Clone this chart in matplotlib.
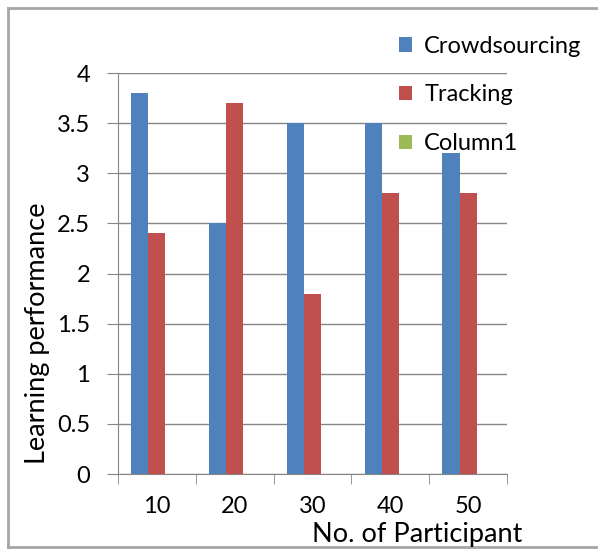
import matplotlib.pyplot as plt
from matplotlib.lines import Line2D
import numpy as np

plt.rcParams['font.family'] = ['Lato', 'DejaVu Sans']

participants = ['10', '20', '30', '40', '50']
crowdsourcing = [3.8, 2.5, 3.5, 3.5, 3.2]
tracking = [2.4, 3.7, 1.8, 2.8, 2.8]
column1 = [0, 0, 0, 0, 0]

series = [('Crowdsourcing', crowdsourcing, '#4F81BD'),
          ('Tracking', tracking, '#C0504D'),
          ('Column1', column1, '#9BBB59')]

fig = plt.figure(figsize=(5.98, 5.49), dpi=100)
ax = fig.add_axes([0.1973, 0.1366, 0.6505, 0.7304])

x = np.arange(len(participants))
w = 0.22
for i, (name, vals, col) in enumerate(series):
    ax.bar(x + (i - 1) * w, vals, w, color=col, label=name, zorder=3)

ax.set_xlim(-0.5, len(participants) - 0.5)
ax.set_ylim(0, 4)
ax.set_yticks(np.arange(0, 4.01, 0.5))
ax.set_yticklabels(['0', '0.5', '1', '1.5', '2', '2.5', '3', '3.5', '4'])
ax.set_xticks(x)
ax.set_xticklabels(participants)
ax.set_xticks(np.arange(-0.5, len(participants)), minor=True)

ax.grid(axis='y', color='#868686', linewidth=1, zorder=0)
ax.tick_params(axis='x', which='major', length=0, pad=16, labelsize=17)
ax.tick_params(axis='x', which='minor', length=7, color='#868686', direction='out')
ax.tick_params(axis='y', length=8, color='#868686', pad=12, labelsize=17)

for s in ['top', 'right']:
    ax.spines[s].set_visible(False)
for s in ['left', 'bottom']:
    ax.spines[s].set_color('#868686')

fig.text(0.063, 0.393, 'Learning performance', fontsize=19.5, rotation=90,
         ha='center', va='center')
fig.text(0.698, 0.003, 'No. of Participant', fontsize=19.5, ha='center', va='bottom')

ax.legend(loc='upper left', bbox_to_anchor=(0.652, 0.952), bbox_transform=fig.transFigure,
          frameon=False, fontsize=17, handlelength=0.55, handleheight=0.55,
          handletextpad=0.5, labelspacing=1.17, borderaxespad=0)

# chart area frame: left, top and bottom edges
bx0, by0, by1 = 7.5 / 598, 1 - 547 / 549, 1 - 7.5 / 549
for xs, ys in [([bx0, bx0], [by0, by1]), ([bx0, 1], [by1, by1]), ([bx0, 1], [by0, by0])]:
    fig.add_artist(Line2D(xs, ys, transform=fig.transFigure, color='#A6A6A6', linewidth=2))

fig.savefig('out.png', dpi=100)
